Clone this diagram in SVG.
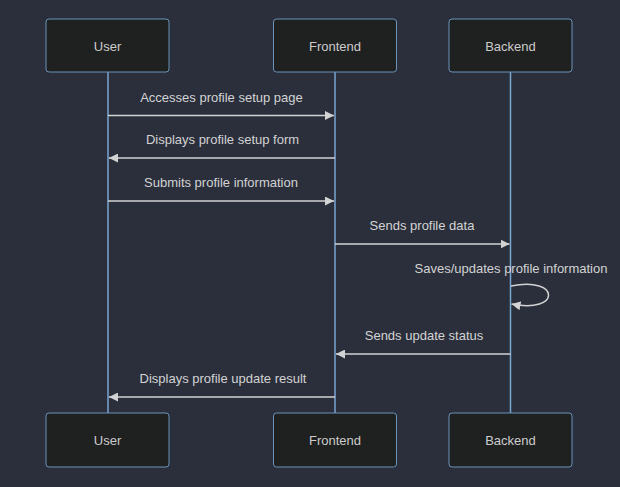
<svg xmlns="http://www.w3.org/2000/svg" width="620" height="487" viewBox="0 0 620 487">
<style>
.bg{fill:#2a2f3b}
.actor{fill:#1f2020;stroke:#6a93bb;stroke-width:1}
.atext{font-family:"Liberation Sans",Arial,sans-serif;font-size:13px;fill:#cccccc;text-anchor:middle;dominant-baseline:central}
.life{stroke:#7aa6d2;stroke-width:1.5}
.msg{stroke:#d3d3d3;stroke-width:1.5;fill:none}
.mtext{font-family:"Liberation Sans",Arial,sans-serif;font-size:13px;fill:#d3d3d3;text-anchor:middle;dominant-baseline:central}
</style>
<defs>
<marker id="arrow" viewBox="0 0 10 10" refX="10" refY="5" markerUnits="userSpaceOnUse" markerWidth="9" markerHeight="9" orient="auto">
<path d="M0,0 L10,5 L0,10 z" fill="#d3d3d3"/>
</marker>
</defs>
<rect class="bg" x="0" y="0" width="620" height="487"/>
<g id="lifelines">
<line class="life" x1="108" y1="72" x2="108" y2="413"/>
<line class="life" x1="335" y1="72" x2="335" y2="413"/>
<line class="life" x1="510.5" y1="72" x2="510.5" y2="413"/>
</g>
<g id="actor-user-top"><rect class="actor" x="46" y="19" width="123" height="53" rx="3"/><text class="atext" x="107.5" y="46">User</text></g>
<g id="actor-frontend-top"><rect class="actor" x="273.5" y="19" width="123" height="53" rx="3"/><text class="atext" x="335" y="46">Frontend</text></g>
<g id="actor-backend-top"><rect class="actor" x="449" y="19" width="123" height="53" rx="3"/><text class="atext" x="510.5" y="46">Backend</text></g>
<g id="actor-user-bottom"><rect class="actor" x="46" y="413" width="123" height="54" rx="3"/><text class="atext" x="107.5" y="440">User</text></g>
<g id="actor-frontend-bottom"><rect class="actor" x="273.5" y="413" width="123" height="54" rx="3"/><text class="atext" x="335" y="440">Frontend</text></g>
<g id="actor-backend-bottom"><rect class="actor" x="449" y="413" width="123" height="54" rx="3"/><text class="atext" x="510.5" y="440">Backend</text></g>
<g id="connectors">
<text class="mtext" x="221.5" y="97">Accesses profile setup page</text>
<line class="msg" x1="108" y1="115.5" x2="334" y2="115.5" marker-end="url(#arrow)"/>
<text class="mtext" x="222.5" y="139">Displays profile setup form</text>
<line class="msg" x1="335" y1="158" x2="109" y2="158" marker-end="url(#arrow)"/>
<text class="mtext" x="221" y="182">Submits profile information</text>
<line class="msg" x1="108" y1="201" x2="334" y2="201" marker-end="url(#arrow)"/>
<text class="mtext" x="422" y="225">Sends profile data</text>
<line class="msg" x1="335" y1="244" x2="509.5" y2="244" marker-end="url(#arrow)"/>
<text class="mtext" x="511" y="268">Saves/updates profile information</text>
<path class="msg" d="M511,286 C561,276 561,314 511.5,304" marker-end="url(#arrow)"/>
<text class="mtext" x="424" y="335">Sends update status</text>
<line class="msg" x1="510.5" y1="354" x2="336" y2="354" marker-end="url(#arrow)"/>
<text class="mtext" x="223" y="378">Displays profile update result</text>
<line class="msg" x1="335" y1="397" x2="109" y2="397" marker-end="url(#arrow)"/>
</g>
</svg>
